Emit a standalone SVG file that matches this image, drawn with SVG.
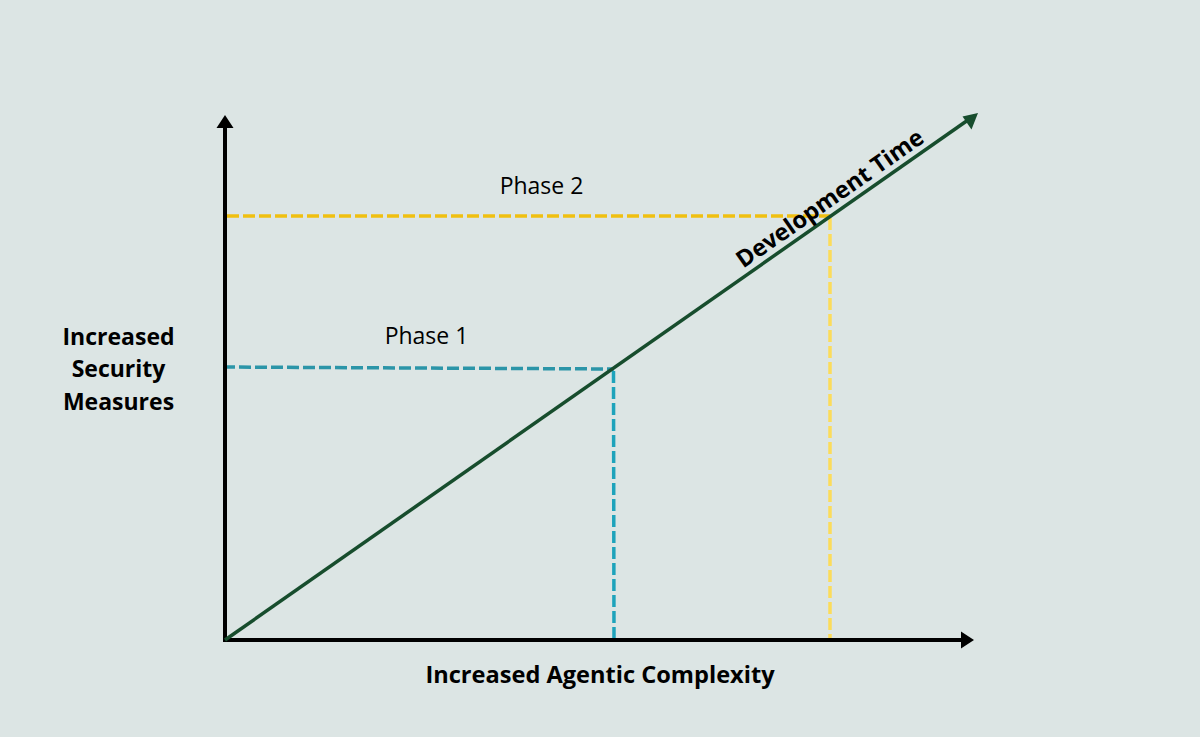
<svg xmlns="http://www.w3.org/2000/svg" width="1200" height="737" viewBox="0 0 1200 737">
  <style>
    .lbl { font-family: "Open Sans", "Liberation Sans", sans-serif; fill: #000; }
    .bold { font-weight: 700; font-size: 23px; }
    .reg { font-weight: 400; font-size: 23px; }
    .dash { fill: none; stroke-width: 3.5; stroke-dasharray: 12 4; }
    .axis { stroke: #000; stroke-width: 4; fill: none; }
  </style>
  <rect width="1200" height="737" fill="#dce5e4"/>

  <g id="connectors">
    <line class="dash" x1="227" y1="216" x2="830" y2="216" stroke="#f0c010"/>
    <line class="dash" x1="830" y1="218" x2="830" y2="640" stroke="#fcdc5a"/>
    <line class="dash" x1="223" y1="367" x2="614" y2="369" stroke="#2b95a8"/>
    <line class="dash" x1="613.5" y1="371" x2="614" y2="640" stroke="#1ea3bb"/>
    <line class="axis" x1="225" y1="642" x2="225" y2="126"/>
    <polygon points="225,115 216.5,128 233.5,128" fill="#000"/>
    <line class="axis" x1="223" y1="640" x2="963" y2="640"/>
    <polygon points="974,640 961,631.5 961,648.5" fill="#000"/>
    <line x1="225" y1="640" x2="968" y2="120" stroke="#174d2d" stroke-width="3.5"/>
    <polygon points="978,113 962.5,116.5 971.5,129.5" fill="#174d2d"/>
  </g>

  <g id="y-label">
    <text class="lbl bold" text-anchor="middle" x="118.5" y="345">Increased</text>
    <text class="lbl bold" text-anchor="middle" x="118.5" y="377">Security</text>
    <text class="lbl bold" text-anchor="middle" x="118.5" y="410">Measures</text>
  </g>
  <g id="x-label">
    <text class="lbl bold" text-anchor="middle" x="600" y="683" style="font-size:23.6px">Increased Agentic Complexity</text>
  </g>
  <g id="phase2">
    <text class="lbl reg" text-anchor="middle" x="541.5" y="194">Phase 2</text>
  </g>
  <g id="phase1">
    <text class="lbl reg" text-anchor="middle" x="426.5" y="344">Phase 1</text>
  </g>
  <g id="development-time">
    <text class="lbl bold" text-anchor="middle" transform="translate(838.5,210.8) rotate(-35)" x="0" y="-7" style="font-size:23.6px">Development Time</text>
  </g>
</svg>
